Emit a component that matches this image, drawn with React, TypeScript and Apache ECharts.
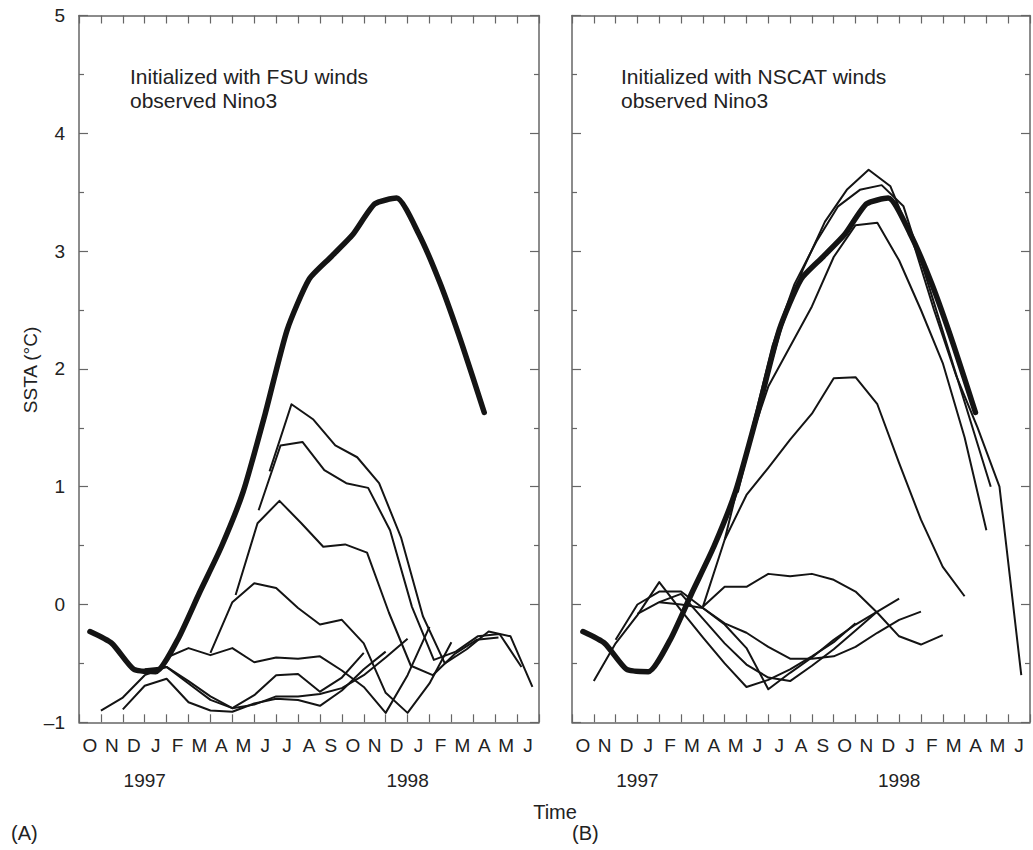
import React, { useEffect, useRef } from 'react';
import * as echarts from 'echarts';

// ---------- data ----------
// month coordinate: 0 = 1 Oct 1996, one unit per month
const MONTHS = ['O', 'N', 'D', 'J', 'F', 'M', 'A', 'M', 'J', 'J', 'A', 'S', 'O', 'N', 'D', 'J', 'F', 'M', 'A', 'M', 'J'];
const YEAR_LABELS = ['1997', '1998'];
const YEAR_AT = [3, 15];
const Y_MIN = -1;
const Y_MAX = 5;

// observed Nino3 SSTA, monthly means (mid-month), Oct 1996 .. Apr 1998
const OBSERVED = [-0.23, -0.33, -0.55, -0.57, -0.3, 0.1, 0.49, 0.96, 1.62, 2.33, 2.76, 2.95, 3.14, 3.4, 3.45, 3.15, 2.72, 2.2, 1.63];

// (A) forecasts initialized with FSU winds: start month and monthly values
const FSU_1 = { start: 1, values: [-0.9, -0.79, -0.6, -0.53, -0.67, -0.81, -0.88, -0.77, -0.6, -0.59, -0.74, -0.62, -0.41] };
const FSU_2 = { start: 2, values: [-0.89, -0.69, -0.63, -0.83, -0.9, -0.91, -0.84, -0.8, -0.81, -0.86, -0.73, -0.55, -0.4] };
const FSU_3 = { start: 3, values: [-0.55, -0.53, -0.65, -0.78, -0.88, -0.85, -0.78, -0.78, -0.76, -0.71, -0.6, -0.45, -0.29] };
const FSU_4 = { start: 4, values: [-0.45, -0.37, -0.43, -0.37, -0.49, -0.45, -0.46, -0.44, -0.56, -0.7, -0.92, -0.6, -0.19] };
const FSU_5 = { start: 6, values: [-0.41, 0.02, 0.18, 0.14, -0.03, -0.17, -0.13, -0.33, -0.75, -0.92, -0.67, -0.32] };
const FSU_6 = { start: 7.15, values: [0.08, 0.69, 0.88, 0.69, 0.49, 0.51, 0.44, -0.07, -0.52, -0.6, -0.42, -0.3, -0.28] };
const FSU_7 = { start: 8.2, values: [0.8, 1.35, 1.38, 1.14, 1.03, 0.99, 0.63, -0.02, -0.47, -0.4, -0.27, -0.25, -0.53] };
const FSU_8 = { start: 8.7, values: [1.13, 1.7, 1.57, 1.35, 1.25, 1.03, 0.57, -0.1, -0.5, -0.38, -0.23, -0.27, -0.7] };

// (B) forecasts initialized with NSCAT winds
const NSCAT_1 = { start: 1, values: [-0.65, -0.33, -0.09, 0.19, -0.05, -0.28, -0.5, -0.7, -0.64, -0.55, -0.44, -0.32, -0.16] };
const NSCAT_2 = { start: 2, values: [-0.3, 0.0, 0.11, 0.11, -0.03, -0.17, -0.37, -0.72, -0.58, -0.45, -0.3, -0.17, -0.06] };
const NSCAT_3 = { start: 3, values: [-0.08, 0.02, 0.09, -0.12, -0.33, -0.51, -0.62, -0.65, -0.52, -0.38, -0.22, -0.06, 0.05] };
const NSCAT_4 = { start: 4, values: [0.02, 0.0, -0.03, -0.16, -0.24, -0.36, -0.46, -0.46, -0.44, -0.36, -0.24, -0.13, -0.06] };
const NSCAT_5 = { start: 6, values: [-0.02, 0.15, 0.15, 0.26, 0.24, 0.26, 0.21, 0.11, -0.07, -0.27, -0.34, -0.26] };
const NSCAT_6 = { start: 6, values: [-0.02, 0.55, 0.93, 1.16, 1.4, 1.62, 1.92, 1.93, 1.7, 1.2, 0.72, 0.32, 0.07] };
const NSCAT_7 = { start: 7, values: [0.55, 1.3, 1.85, 2.19, 2.53, 2.95, 3.22, 3.24, 2.92, 2.5, 2.05, 1.42, 0.63] };
const NSCAT_8 = { start: 7.6, values: [0.95, 1.7, 2.35, 2.85, 3.25, 3.52, 3.69, 3.55, 3.1, 2.5, 1.95, 1.5, 1.0, -0.6] };
const NSCAT_9 = { start: 8.2, values: [1.45, 2.2, 2.72, 3.08, 3.38, 3.52, 3.56, 3.38, 2.8, 2.2, 1.6, 1.0] };

const FSU_RUNS = [FSU_1, FSU_2, FSU_3, FSU_4, FSU_5, FSU_6, FSU_7, FSU_8];
const NSCAT_RUNS = [NSCAT_1, NSCAT_2, NSCAT_3, NSCAT_4, NSCAT_5, NSCAT_6, NSCAT_7, NSCAT_8, NSCAT_9];

// ---------- styling ----------
const FONT = 'Liberation Sans, Arial, Helvetica, sans-serif';
const TEXT = '#222';
const AXIS = '#666';
const LINE = '#141414';
const N_MONTHS = MONTHS.length;

function runToPoints(run: { start: number; values: number[] }) {
  return run.values.map((v, i) => [run.start + i, v]);
}

function panelAxes(gridIndex: number, showYLabels: boolean) {
  const axisLine = { show: true, onZero: false, lineStyle: { color: AXIS, width: 1.5 } };
  const monthTick = { show: true, inside: true, length: 8, interval: 0, lineStyle: { color: AXIS, width: 1.2 } };
  const xAxes = [
    { gridIndex, type: 'value', min: 0, max: N_MONTHS, show: false, axisLine: { onZero: false } },
    {
      gridIndex, type: 'category', position: 'bottom', boundaryGap: true,
      data: MONTHS.map((m, i) => m + '_' + i),
      axisLine, axisTick: monthTick,
      axisLabel: { interval: 0, margin: 14, fontSize: 19, fontFamily: FONT, color: TEXT, formatter: (_v: string, i: number) => MONTHS[i] },
      splitLine: { show: false },
    },
    {
      gridIndex, type: 'value', position: 'bottom', min: 0, max: N_MONTHS, interval: 1,
      axisLine: { show: false, onZero: false }, axisTick: { show: false }, splitLine: { show: false },
      axisLabel: {
        margin: 49, fontSize: 19, fontFamily: FONT, color: TEXT, showMinLabel: true, showMaxLabel: true,
        formatter: (v: number) => { const k = YEAR_AT.indexOf(v); return k >= 0 ? YEAR_LABELS[k] : ''; },
      },
    },
    {
      gridIndex, type: 'category', position: 'top', boundaryGap: true,
      data: MONTHS.map((m, i) => m + '_' + i),
      axisLine, axisTick: monthTick,
      axisLabel: { show: false }, splitLine: { show: false },
    },
  ];
  const yBase = {
    gridIndex, type: 'value', min: Y_MIN, max: Y_MAX, interval: 1,
    axisLine,
    axisTick: { show: true, inside: true, length: 9, lineStyle: { color: AXIS, width: 1.2 } },
    minorTick: { show: true, splitNumber: 2, length: 5, lineStyle: { color: AXIS, width: 1.2 } },
    splitLine: { show: false }, minorSplitLine: { show: false },
  };
  const yAxes = [
    {
      ...yBase, position: 'left',
      axisLabel: {
        show: showYLabels, margin: 14, fontSize: 19, fontFamily: FONT, color: TEXT,
        formatter: (v: number) => (v < 0 ? '\u2013' + Math.abs(v) : String(v)),
      },
    },
    { ...yBase, position: 'right', axisLabel: { show: false } },
  ];
  return { xAxes, yAxes };
}

export default function App() {
  const ref = useRef<HTMLDivElement>(null);

  useEffect(() => {
    if (!ref.current) return;
    const chart = echarts.init(ref.current, undefined, { renderer: 'svg' });

    const left = panelAxes(0, true);
    const right = panelAxes(1, false);
    const xAxis = [...left.xAxes, ...right.xAxes];
    const yAxis = [...left.yAxes, ...right.yAxes];

    const thin = (run: { start: number; values: number[] }, xi: number, yi: number) => ({
      type: 'line', xAxisIndex: xi, yAxisIndex: yi, data: runToPoints(run), showSymbol: false,
      lineStyle: { color: LINE, width: 2, join: 'round' }, silent: true, z: 3,
    });
    const observed = OBSERVED.map((v, i) => [i + 0.5, v]);
    const thick = (xi: number, yi: number) => ({
      type: 'line', xAxisIndex: xi, yAxisIndex: yi, data: observed, showSymbol: false, smooth: 0.2,
      lineStyle: { color: LINE, width: 5.5, cap: 'round', join: 'round' }, silent: true, z: 4,
    });

    const series = [
      thick(0, 0),
      ...FSU_RUNS.map((r) => thin(r, 0, 0)),
      thick(4, 2),
      ...NSCAT_RUNS.map((r) => thin(r, 4, 2)),
    ];

    const txt = { fontFamily: FONT, fill: TEXT };

    chart.setOption({
      animation: false,
      backgroundColor: '#ffffff',
      grid: [
        { left: 79, top: 15.5, width: 460, height: 706.8 },
        { left: 572, top: 15.5, width: 460, height: 706.8 },
      ],
      xAxis,
      yAxis,
      series,
      graphic: [
        { type: 'text', left: 130, top: 64, style: { ...txt, text: 'Initialized with FSU winds\nobserved Nino3', fontSize: 21, lineHeight: 24 } },
        { type: 'text', left: 621, top: 64, style: { ...txt, text: 'Initialized with NSCAT winds\nobserved Nino3', fontSize: 21, lineHeight: 24 } },
        { type: 'text', x: 30, y: 370, rotation: Math.PI / 2, style: { ...txt, text: 'SSTA (\u00b0C)', fontSize: 19, textAlign: 'center', textVerticalAlign: 'middle' } },
        { type: 'text', x: 555, y: 812, style: { ...txt, text: 'Time', fontSize: 20, textAlign: 'center', textVerticalAlign: 'middle' } },
        { type: 'text', x: 11, y: 833, style: { ...txt, text: '(A)', fontSize: 20, textAlign: 'left', textVerticalAlign: 'middle' } },
        { type: 'text', x: 572, y: 833, style: { ...txt, text: '(B)', fontSize: 20, textAlign: 'left', textVerticalAlign: 'middle' } },
      ],
    });

    return () => chart.dispose();
  }, []);

  return <div ref={ref} style={{ position: 'absolute', left: 0, top: 0, width: 1033, height: 850, background: '#fff' }} />;
}
